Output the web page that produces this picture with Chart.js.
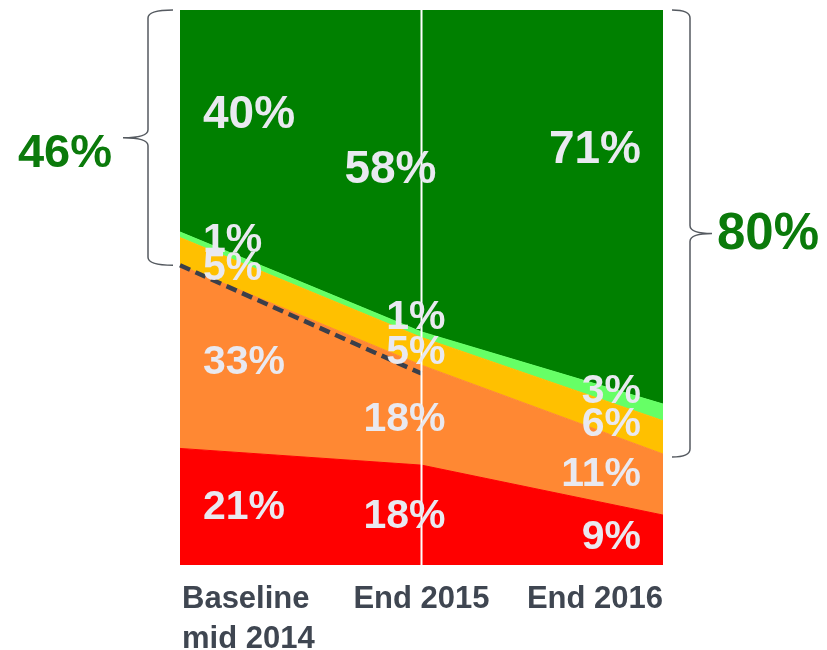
<!DOCTYPE html>
<html>
<head>
<meta charset="utf-8">
<script src="https://cdn.jsdelivr.net/npm/chart.js@4.4.1/dist/chart.umd.min.js"></script>
<style>
  body { margin: 0; background: #fff; }
  #wrap { width: 827px; height: 650px; }
</style>
</head>
<body>
<div id="wrap"><canvas id="shareChart" width="827" height="650"></canvas></div>
<script>
// periods on the x axis
const periods = [['Baseline', 'mid 2014'], 'End 2015', 'End 2016'];

// shares in %, bottom band first
const redShare = [21, 18, 9];
const orangeShare = [33, 18, 11];
const yellowShare = [5, 5, 6];
const lightGreenShare = [1, 1, 3];
const greenShare = [40, 58, 71];

// dashed trend over the orange band
const trendShare = [54, 34.5, null];

// brackets: which column they sum up (top three bands)
const leftBracketCol = 0;
const rightBracketCol = 2;

const bands = [redShare, orangeShare, yellowShare, lightGreenShare, greenShare];
const bandColors = ['#ff0000', '#ff8833', '#ffc000', '#66ff66', '#008000'];

const FONT = '"Liberation Sans", Arial, sans-serif';

// label placement tweaks (px), per column, bottom band first
const labelAlign = ['left', 'right', 'right'];
const labelDx = [23, 24, -22];
const labelDy = [
  [1, 6, 17, 6, -6],
  [2, 5, 1, -17, -1],
  [-2, -10, -13, -21, -57]
];
const labelXNudge = [
  [0, 0, 0, 0, 0],
  [0, 0, 0, 0, -9],
  [0, 0, 0, 0, 0]
];

function sumTop(col, n) {
  let s = 0;
  for (let i = bands.length - n; i < bands.length; i++) s += bands[i][col];
  return s;
}

function drawBrace(ctx, sx, armX, tipX, yTop, yBot) {
  const yMid = (yTop + yBot) / 2;
  const r = 8;
  ctx.beginPath();
  ctx.moveTo(armX, yTop);
  ctx.quadraticCurveTo(sx, yTop, sx, yTop + r);
  ctx.lineTo(sx, yMid - r);
  ctx.quadraticCurveTo(sx, yMid, tipX, yMid);
  ctx.quadraticCurveTo(sx, yMid, sx, yMid + r);
  ctx.lineTo(sx, yBot - r);
  ctx.quadraticCurveTo(sx, yBot, armX, yBot);
  ctx.stroke();
}

const extras = {
  id: 'extras',
  afterDatasetsDraw(chart) {
    const ctx = chart.ctx;
    const xs = chart.scales.x;
    const ys = chart.scales.y;
    const area = chart.chartArea;
    ctx.save();

    // white divider at End 2015
    const xm = xs.getPixelForValue(1);
    ctx.strokeStyle = '#ffffff';
    ctx.lineWidth = 2;
    ctx.beginPath();
    ctx.moveTo(xm, area.top);
    ctx.lineTo(xm, area.bottom);
    ctx.stroke();

    // band value labels
    ctx.fillStyle = '#e9e9f0';
    ctx.textBaseline = 'middle';
    for (let c = 0; c < periods.length; c++) {
      let lower = 0;
      for (let b = 0; b < bands.length; b++) {
        const v = bands[b][c];
        const mid = lower + v / 2;
        lower += v;
        const size = b === bands.length - 1 ? 46 : 41;
        ctx.font = 'bold ' + size + 'px ' + FONT;
        ctx.textAlign = labelAlign[c];
        const x = xs.getPixelForValue(c) + labelDx[c] + labelXNudge[c][b];
        const y = ys.getPixelForValue(mid) + labelDy[c][b];
        ctx.fillText(v + '%', x, y);
      }
    }

    // brackets
    ctx.strokeStyle = '#555a60';
    ctx.lineWidth = 1.5;
    const leftSum = sumTop(leftBracketCol, 3);
    const rightSum = sumTop(rightBracketCol, 3);
    const lTop = ys.getPixelForValue(100);
    const lBot = ys.getPixelForValue(100 - leftSum);
    drawBrace(ctx, area.left - 32, area.left - 7, area.left - 57, lTop, lBot);
    const rBot = ys.getPixelForValue(100 - rightSum) + 3;
    drawBrace(ctx, area.right + 27, area.right + 9, area.right + 49, lTop, rBot);

    ctx.fillStyle = '#0b7a0b';
    ctx.textBaseline = 'middle';
    ctx.font = 'bold 47px ' + FONT;
    ctx.textAlign = 'right';
    ctx.fillText(leftSum + '%', area.left - 68, (lTop + lBot) / 2 + 16);
    ctx.font = 'bold 51px ' + FONT;
    ctx.textAlign = 'left';
    ctx.fillText(rightSum + '%', area.right + 54, (lTop + rBot) / 2 + 1);

    // x labels
    ctx.fillStyle = '#3f4651';
    ctx.font = 'bold 31px ' + FONT;
    ctx.textBaseline = 'alphabetic';
    const xAlign = ['left', 'center', 'right'];
    const xDx = [2, 0, 0];
    periods.forEach((p, i) => {
      const lines = Array.isArray(p) ? p : [p];
      ctx.textAlign = xAlign[i];
      lines.forEach((t, j) => {
        ctx.fillText(t, xs.getPixelForValue(i) + xDx[i], area.bottom + 43 + j * 40);
      });
    });

    ctx.restore();
  }
};

const datasets = [{
  label: 'trend',
  data: trendShare,
  stack: 'trend',
  fill: false,
  borderColor: '#3b3f4a',
  borderWidth: 4.5,
  borderDash: [11, 6],
  pointRadius: 0,
  spanGaps: false
}];

const bandNames = ['red', 'orange', 'yellow', 'light green', 'green'];
bands.forEach((vals, i) => {
  datasets.push({
    label: bandNames[i],
    data: vals,
    stack: 'share',
    fill: i === 0 ? 'origin' : 'stack',
    backgroundColor: bandColors[i],
    borderColor: bandColors[i],
    borderWidth: 1,
    pointRadius: 0,
    tension: 0
  });
});

let shareChart = new Chart(document.getElementById('shareChart'), {
  type: 'line',
  data: {
    labels: periods,
    datasets: datasets
  },
  options: {
    responsive: false,
    animation: false,
    layout: {
      padding: { left: 180, right: 164, top: 10, bottom: 85 }
    },
    plugins: {
      legend: { display: false },
      tooltip: { enabled: false }
    },
    scales: {
      x: { display: false, offset: false },
      y: { display: false, stacked: true, min: 0, max: 100 }
    }
  },
  plugins: [extras]
});
</script>
</body>
</html>
